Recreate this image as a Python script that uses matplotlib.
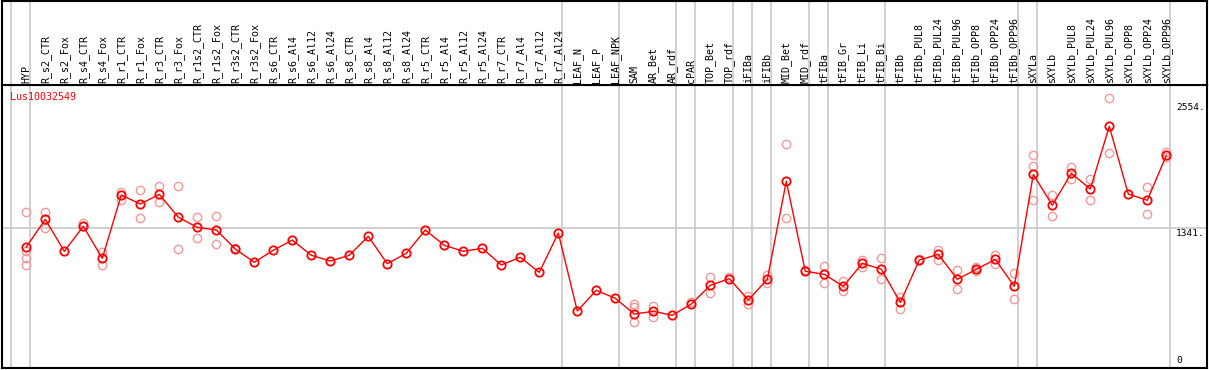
import numpy as np
import matplotlib
matplotlib.use('Agg')
import matplotlib.pyplot as plt
import matplotlib.transforms as mtransforms

gene = 'Lus10032549'

samples = ['HYP', 'R_s2_CTR', 'R_s2_Fox', 'R_s4_CTR', 'R_s4_Fox', 'R_r1_CTR', 'R_r1_Fox',
           'R_r3_CTR', 'R_r3_Fox', 'R_r1s2_CTR', 'R_r1s2_Fox', 'R_r3s2_CTR', 'R_r3s2_Fox',
           'R_s6_CTR', 'R_s6_Al4', 'R_s6_Al12', 'R_s6_Al24', 'R_s8_CTR', 'R_s8_Al4',
           'R_s8_Al12', 'R_s8_Al24', 'R_r5_CTR', 'R_r5_Al4', 'R_r5_Al12', 'R_r5_Al24',
           'R_r7_CTR', 'R_r7_Al4', 'R_r7_Al12', 'R_r7_Al24', 'LEAF_N', 'LEAF_P', 'LEAF_NPK',
           'SAM', 'AR_Bet', 'AR_rdf', 'cPAR', 'TOP_Bet', 'TOP_rdf', 'iFIBa', 'iFIBb',
           'MID_Bet', 'MID_rdf', 'tFIBa', 'tFIB_Gr', 'tFIB_Li', 'tFIB_Bi', 'tFIBb',
           'tFIBb_PUL8', 'tFIBb_PUL24', 'tFIBb_PUL96', 'tFIBb_OPP8', 'tFIBb_OPP24',
           'tFIBb_OPP96', 'sXYLa', 'sXYLb', 'sXYLb_PUL8', 'sXYLb_PUL24', 'sXYLb_PUL96',
           'sXYLb_OPP8', 'sXYLb_OPP24', 'sXYLb_OPP96']

# mean expression per sample
means = [1162, 1427, 1120, 1360, 1053, 1661, 1574, 1667, 1447, 1350, 1325, 1142, 1015,
         1130, 1228, 1082, 1027, 1082, 1264, 1001, 1101, 1325, 1178, 1120, 1149, 989,
         1063, 918, 1296, 547, 746, 669, 518, 544, 506, 614, 794, 858, 653, 851,
         1792, 928, 899, 784, 1005, 948, 630, 1037, 1091, 851, 947, 1043, 784,
         1859, 1562, 1869, 1718, 2320, 1670, 1610, 2041]

# single replicates
reps = [[1495, 1123, 1053, 989], [1495, 1347], [], [1389, 1360], [1117, 989],
        [1690, 1613], [1706, 1437], [1747, 1591], [1747, 1139], [1447, 1245],
        [1456, 1187], [1150], [], [], [], [], [], [], [], [], [], [], [], [], [],
        [], [], [], [], [], [], [],
        [614, 583, 439], [595, 493], [], [637], [874, 723], [874], [691, 614],
        [893, 813], [2147, 1437], [941], [979, 819], [838, 736], [1037, 967],
        [1053, 851], [682, 570], [1045], [1136, 1037], [938, 762], [970, 935],
        [1085, 998], [909, 659], [2041, 1936, 1610], [1658, 1459], [1930, 1811],
        [1814, 1610], [2589, 2064], [], [1741, 1475], [2074, 2022]]

# last sample of each group (-1 = left edge)
group_ends = [-1, 0, 28, 31, 34, 35, 37, 38, 39, 41, 42, 45, 52, 53, 60]

ytick_vals = [0, 1341, 2554]
ytick_text = ['0', '1341.', '2554.']

W, H = 1209, 370
fig = plt.figure(figsize=(W / 100, H / 100), dpi=100)
left, right = 2 / W, 1207 / W
ax = fig.add_axes([left, 2 / H, right - left, 283 / H])
axl = fig.add_axes([left, 285 / H, right - left, 84.5 / H], sharex=ax)

x = np.arange(len(samples))
xmin, xmax = (2 - 26.3) / 19, (1207 - 26.3) / 19
ax.set_xlim(xmin, xmax)
ax.set_ylim(0, 283 * 9.6)
axl.set_ylim(0, 1)

grey = '#c4c4c4'
for a in (ax, axl):
    for g in group_ends:
        a.axvline(g + 0.21, color=grey, lw=1.1, zorder=1)
    a.set_xticks([])
    a.set_yticks([])
    for s in a.spines.values():
        s.set_color('black')
        s.set_linewidth(1.5)
ax.axhline(ytick_vals[1], color=grey, lw=1.1, zorder=1)

# replicate circles
rx = [i for i, r in enumerate(reps) for v in r]
ry = [v for r in reps for v in r]
ax.plot(rx, ry, 'o', ms=6, mfc='none', mec='#f09a9a', mew=1.0, zorder=2)

# mean line
ax.plot(x, means, '-', color='red', lw=1, zorder=3)
ax.plot(x, means, 'o', ms=6, mfc='none', mec='red', mew=1.3, zorder=4)

# sample labels, vertical
trans = mtransforms.blended_transform_factory(axl.transData, axl.transAxes)
for i, lab in enumerate(samples):
    axl.text(i, 0.025, lab, rotation=90, ha='center', va='bottom', transform=trans,
             fontsize=7.2, family='DejaVu Sans Mono')

fig.text(10 / W, 1 - 97 / H, gene, color='red', fontsize=7.2, family='DejaVu Sans Mono',
         ha='left', va='center')

xl = (1176 - 26.3) / 19
for v, t in zip(ytick_vals, ytick_text):
    if v == 0:
        ax.text(xl, v + 25, t, ha='left', va='bottom', fontsize=6.8, family='DejaVu Sans Mono')
    else:
        ax.text(xl, v - 10, t, ha='left', va='top', fontsize=6.8, family='DejaVu Sans Mono')

fig.savefig('out.png', dpi=100)
